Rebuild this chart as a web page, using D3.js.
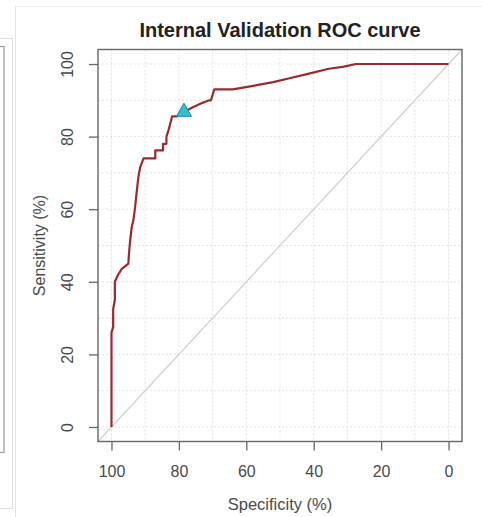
<!DOCTYPE html>
<html><head><meta charset="utf-8">
<script src="https://cdn.jsdelivr.net/npm/d3@7"></script>
<style>body{margin:0;background:#fff;}svg{display:block;font-family:"Liberation Sans",Arial,sans-serif;}</style>
</head><body>
<svg id="c" width="482" height="517"></svg>
<script>
const specificity = [100, 100, 99.5, 99.5, 99, 99, 98, 97, 95, 94.8, 94.5, 94, 93.5, 93, 92.5, 92, 91.5, 90.5, 87, 87, 84.7, 84.7, 83.7, 83.7, 83, 82, 80.5, 78.5, 76, 73, 71, 70.5, 69.5, 64, 58, 52, 47.5, 42, 35.5, 31, 27.5, 0];
const sensitivity = [0, 26, 27.5, 32.5, 35, 40, 42, 43.5, 45, 47.8, 51, 55, 57, 60.5, 65, 69, 71.5, 74, 74, 76.2, 76.2, 78, 78, 80, 82, 85.6, 85.6, 86.8, 88, 89.3, 90, 90, 93, 93, 94, 95, 96, 97.2, 98.7, 99.3, 100, 100];
const bestPoint = {spec: 78.5, sens: 86.8};
const xTicks = [100, 80, 60, 40, 20, 0];
const yTicks = [0, 20, 40, 60, 80, 100];
const gridVals = [0, 10, 20, 30, 40, 50, 60, 70, 80, 90, 100];
const title = "Internal Validation ROC curve";
const xLabel = "Specificity (%)";
const yLabel = "Sensitivity (%)";

const svg = d3.select("#c");
const L = 98, R = 462, T = 49.5, B = 441.5;
const x = d3.scaleLinear().domain([104, -4]).range([L, R]);
const y = d3.scaleLinear().domain([-4, 104]).range([B, T]);

// background fragments of neighbouring panel
svg.append("line").attr("x1",15).attr("x2",482).attr("y1",6.5).attr("y2",6.5).attr("stroke","#eee");
svg.append("line").attr("x1",15.5).attr("x2",15.5).attr("y1",6).attr("y2",517).attr("stroke","#e4e4e4");
svg.append("rect").attr("x",-10).attr("y",38.5).attr("width",22.5).attr("height",470).attr("fill","none").attr("stroke","#ddd");
svg.append("rect").attr("x",-10).attr("y",46.5).attr("width",14).attr("height",406).attr("fill","none").attr("stroke","#999").attr("stroke-width",1.2);

// grid
const g = svg.append("g");
g.selectAll("line.v").data(gridVals).join("line")
  .attr("x1",d=>x(d)).attr("x2",d=>x(d)).attr("y1",T).attr("y2",B)
  .attr("stroke","#e2e2e2").attr("stroke-dasharray","2,2");
g.selectAll("line.h").data(gridVals).join("line")
  .attr("y1",d=>y(d)).attr("y2",d=>y(d)).attr("x1",L).attr("x2",R)
  .attr("stroke","#e2e2e2").attr("stroke-dasharray","2,2");

// diagonal reference across plot region
svg.append("line").attr("x1",x(104)).attr("y1",y(-4)).attr("x2",x(-4)).attr("y2",y(104))
  .attr("stroke","#cfcfcf").attr("stroke-width",1.2);

// ROC curve
const pts = specificity.map((s,i)=>[s, sensitivity[i]]);
svg.append("path").datum(pts)
  .attr("d", d3.line().x(d=>x(d[0])).y(d=>y(d[1])))
  .attr("fill","none").attr("stroke","#9b2a2e").attr("stroke-width",2.2).attr("stroke-linejoin","round");

// best threshold marker
svg.append("path").attr("d", d3.symbol().type(d3.symbolTriangle).size(100)())
  .attr("transform",`translate(${x(bestPoint.spec)},${y(bestPoint.sens)})`)
  .attr("fill","#35bcd6").attr("stroke","#1a8aa8").attr("stroke-width",1);

// box
svg.append("rect").attr("x",L).attr("y",T).attr("width",R-L).attr("height",B-T)
  .attr("fill","none").attr("stroke","#666").attr("stroke-width",1.4);

// x axis
const xa = svg.append("g").attr("transform",`translate(0,${B})`)
  .call(d3.axisBottom(x).tickValues(xTicks).tickSize(9).tickPadding(15).tickFormat(d3.format("d")));
xa.select(".domain").remove();
xa.selectAll("line").attr("stroke","#666").attr("stroke-width",1.3);
xa.selectAll("text").attr("font-size",16).attr("fill","#4a4a4a").attr("font-family","Liberation Sans, Arial, sans-serif");

// y axis
const ya = svg.append("g").attr("transform",`translate(${L},0)`)
  .call(d3.axisLeft(y).tickValues(yTicks).tickSize(9).tickPadding(0).tickFormat(d3.format("d")));
ya.select(".domain").remove();
ya.selectAll("line").attr("stroke","#666").attr("stroke-width",1.3);
ya.selectAll("text").attr("font-size",16).attr("fill","#4a4a4a").attr("font-family","Liberation Sans, Arial, sans-serif")
  .attr("text-anchor","middle").attr("x",0).attr("dy",0)
  .attr("transform","translate(-29,0) rotate(-90)").attr("dominant-baseline","middle");

// labels
svg.append("text").attr("x",(L+R)/2).attr("y",37).attr("text-anchor","middle")
  .attr("font-size",20).attr("font-weight","bold").attr("fill","#222").text(title);
svg.append("text").attr("x",(L+R)/2).attr("y",510).attr("text-anchor","middle")
  .attr("font-size",16.5).attr("fill","#4a4a4a").text(xLabel);
svg.append("text").attr("transform",`translate(45,${(T+B)/2}) rotate(-90)`).attr("text-anchor","middle")
  .attr("font-size",16).attr("fill","#4a4a4a").text(yLabel);
</script>
</body></html>
